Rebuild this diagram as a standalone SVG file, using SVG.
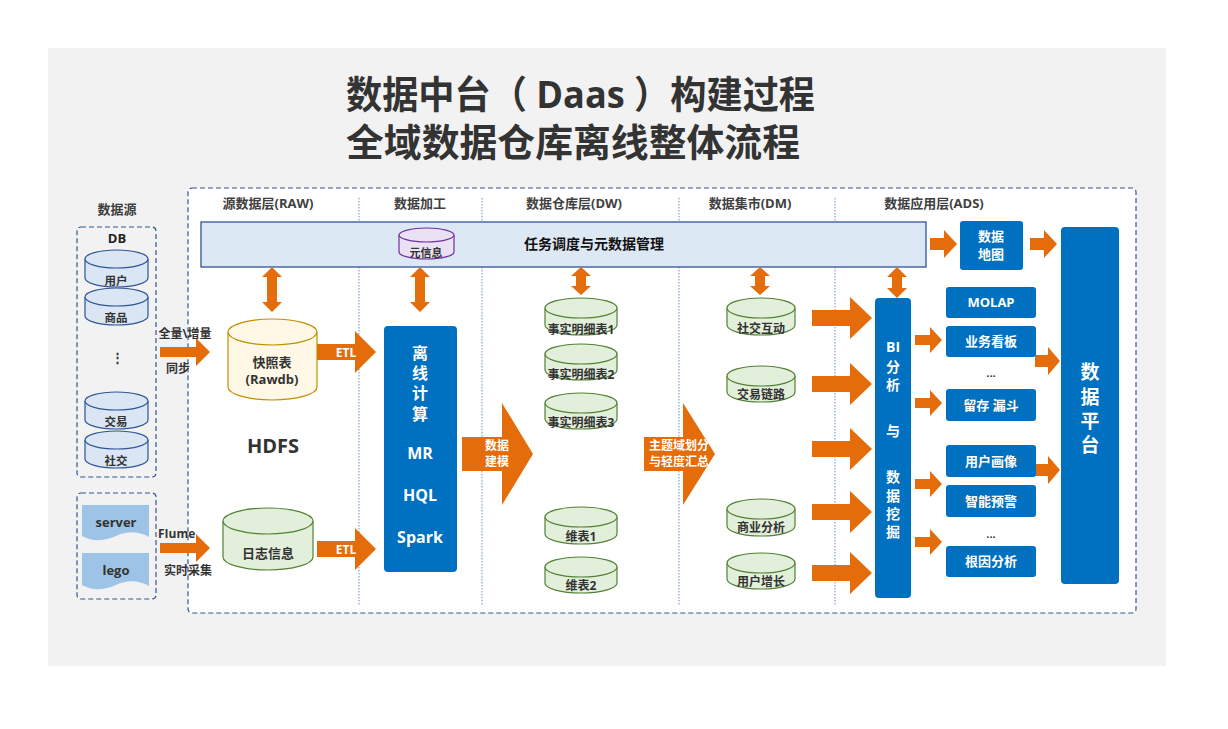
<svg xmlns="http://www.w3.org/2000/svg" width="1228" height="729" viewBox="0 0 1228 729">
<style>
text{font-family:"Open Sans","Noto Sans CJK SC",sans-serif;font-weight:bold;text-anchor:middle}
.title{font-size:38px;fill:#333;text-anchor:start}
.hdr{font-size:13px;fill:#404040}
.lbl{font-size:12px;fill:#333}
.wt{fill:#fff}
.arr{fill:#e46c0a}
.sep{stroke:#8ea9d1;stroke-width:1.3;stroke-dasharray:1.5 1.5;fill:none}
.dash{fill:none;stroke:#2f5597;stroke-width:1.2;stroke-dasharray:5 3}
.cb{fill:#dae6f3;stroke:#2f5597;stroke-width:1.2}
.cg{fill:#e2efda;stroke:#538135;stroke-width:1.2}
.cy{fill:#fff8e6;stroke:#bf9000;stroke-width:1.2}
.cp{fill:#ebe1f5;stroke:#7030a0;stroke-width:1.2}
.blue{fill:#0070c0}
</style>
<rect x="0" y="0" width="1228" height="729" style="fill:#ffffff"/>
<rect x="48" y="48" width="1118" height="618" style="fill:#f2f2f2"/>
<text class="title" x="346" y="108" textLength="469" lengthAdjust="spacingAndGlyphs">数据中台（ Daas ）构建过程</text>
<text class="title" x="346" y="156" textLength="454" lengthAdjust="spacingAndGlyphs">全域数据仓库离线整体流程</text>

<rect x="188" y="188" width="948" height="425" rx="4" style="fill:#ffffff;stroke:none"/>
<rect x="188" y="188" width="948" height="425" rx="4" class="dash"/>
<g id="separators">
<line class="sep" x1="359" y1="198" x2="359" y2="605"/>
<line class="sep" x1="482" y1="198" x2="482" y2="605"/>
<line class="sep" x1="679" y1="198" x2="679" y2="605"/>
<line class="sep" x1="835" y1="198" x2="835" y2="605"/>
</g>
<g id="headers">
<text class="hdr" x="117" y="214">数据源</text>
<text class="hdr" x="268" y="208">源数据层(RAW)</text>
<text class="hdr" x="420" y="208">数据加工</text>
<text class="hdr" x="574" y="208">数据仓库层(DW)</text>
<text class="hdr" x="750" y="208">数据集市(DM)</text>
<text class="hdr" x="934" y="208">数据应用层(ADS)</text>
</g>

<g id="band">
<rect x="201" y="222" width="725" height="45" fill="#dde8f5" stroke="#2f5597" stroke-width="1.3"/>
<text x="594" y="249" font-size="14" fill="#111">任务调度与元数据管理</text>
</g>
<g id="meta">
<path class="cp" d="M399,235 V252 A27.5,7 0 0 0 454,252 V235"/>
<ellipse class="cp" cx="426.5" cy="235" rx="27.5" ry="7"/>
<text x="426" y="257" font-size="11" fill="#333">元信息</text>
</g>

<g id="src-db">
<rect x="77" y="227" width="79" height="250" rx="4" class="dash"/>
<text x="117" y="243" font-size="13" fill="#222">DB</text>
<g id="db-user"><path class="cb" d="M85,259 V278 A31.5,9 0 0 0 148,278 V259"/><ellipse class="cb" cx="116.5" cy="259" rx="31.5" ry="9"/><text x="116" y="285" font-size="11.5" fill="#333">用户</text></g>
<g id="db-goods"><path class="cb" d="M85,297 V316 A31.5,9 0 0 0 148,316 V297"/><ellipse class="cb" cx="116.5" cy="297" rx="31.5" ry="9"/><text x="116" y="322" font-size="11.5" fill="#333">商品</text></g>
<text x="117" y="362" font-size="13" fill="#333">⋮</text>
<g id="db-trade"><path class="cb" d="M85,401 V420 A31.5,9 0 0 0 148,420 V401"/><ellipse class="cb" cx="116.5" cy="401" rx="31.5" ry="9"/><text x="116" y="426" font-size="11.5" fill="#333">交易</text></g>
<g id="db-social"><path class="cb" d="M85,440 V459 A31.5,9 0 0 0 148,459 V440"/><ellipse class="cb" cx="116.5" cy="440" rx="31.5" ry="9"/><text x="116" y="465" font-size="11.5" fill="#333">社交</text></g>
</g>
<g id="src-log">
<rect x="77" y="493" width="79" height="106" rx="4" class="dash"/>
<path fill="#9dc3e6" d="M82,505 H149 V537 C138,531 127,531 116,536 S93,542 82,536 Z"/>
<text x="116" y="527" font-size="13" fill="#333">server</text>
<path fill="#9dc3e6" d="M82,553 H149 V586 C138,580 127,580 116,585 S93,591 82,585 Z"/>
<text x="116" y="575" font-size="13" fill="#333">lego</text>
</g>

<g id="connectors">
<polygon class="arr" points="160,347 196,347 196,338 210,352 196,366 196,357 160,357"/>
<polygon class="arr" points="160,543 196,543 196,534 210,548 196,562 196,553 160,553"/>
<polygon class="arr" points="317,344 355,344 355,331 376,352 355,373 355,360 317,360"/>
<polygon class="arr" points="317,541 355,541 355,528 376,549 355,570 355,557 317,557"/>
<polygon class="arr" points="462,437 502,437 502,403 533,454 502,505 502,471 462,471"/>
<polygon class="arr" points="644,437 683,437 683,403 715,454 683,505 683,471 644,471"/>
<polygon class="arr" points="812,310 850,310 850,297 872,318 850,339 850,326 812,326"/>
<polygon class="arr" points="812,376 850,376 850,363 872,384 850,405 850,392 812,392"/>
<polygon class="arr" points="812,441 850,441 850,428 872,449 850,470 850,457 812,457"/>
<polygon class="arr" points="812,504 850,504 850,491 872,512 850,533 850,520 812,520"/>
<polygon class="arr" points="812,565 850,565 850,552 872,573 850,594 850,581 812,581"/>
<polygon class="arr" points="915,335 930,335 930,327 942,340 930,353 930,345 915,345"/>
<polygon class="arr" points="915,398 930,398 930,390 942,403 930,416 930,408 915,408"/>
<polygon class="arr" points="915,479 930,479 930,471 942,484 930,497 930,489 915,489"/>
<polygon class="arr" points="915,537 930,537 930,529 942,542 930,555 930,547 915,547"/>
<polygon class="arr" points="1035,355 1048,355 1048,347 1060,361 1048,375 1048,367 1035,367"/>
<polygon class="arr" points="1035,464 1048,464 1048,456 1060,470 1048,484 1048,476 1035,476"/>
<polygon class="arr" points="930,238 944,238 944,230 957,244 944,258 944,250 930,250"/>
<polygon class="arr" points="1030,238 1044,238 1044,230 1057,244 1044,258 1044,250 1030,250"/>
<polygon class="arr" points="272,267 282,277 277,277 277,302 282,302 272,312 262,302 267,302 267,277 262,277"/>
<polygon class="arr" points="420,267 430,277 425,277 425,302 430,302 420,312 410,302 415,302 415,277 410,277"/>
<polygon class="arr" points="581,267 591,276 586,276 586,286 591,286 581,295 571,286 576,286 576,276 571,276"/>
<polygon class="arr" points="760,267 770,276 765,276 765,286 770,286 760,295 750,286 755,286 755,276 750,276"/>
<polygon class="arr" points="897,267 907,277 902,277 902,288 907,288 897,298 887,288 892,288 892,277 887,277"/>
<text x="346" y="357" font-size="12" class="wt">ETL</text>
<text x="346" y="554" font-size="12" class="wt">ETL</text>
<text x="497" y="450" font-size="12" class="wt">数据</text>
<text x="497" y="466" font-size="12" class="wt">建模</text>
<text x="679" y="450" font-size="12" class="wt">主题域划分</text>
<text x="679" y="466" font-size="12" class="wt">与轻度汇总</text>
<text x="185" y="338" class="lbl">全量\增量</text>
<text x="178" y="373" class="lbl">同步</text>
<text x="158" y="538" class="lbl" style="text-anchor:start">FIume</text>
<text x="188" y="575" class="lbl">实时采集</text>
</g>

<g id="raw-snapshot">
<path class="cy" d="M228,332 V387 A44.5,13 0 0 0 317,387 V332"/>
<ellipse class="cy" cx="272.5" cy="332" rx="44.5" ry="13"/>
<text x="272" y="367" font-size="13" fill="#333">快照表</text>
<text x="272" y="384" font-size="13" fill="#333">(Rawdb)</text>
</g>
<text x="273" y="453" font-size="20" fill="#333">HDFS</text>
<g id="raw-log">
<path class="cg" d="M223,521 V557 A45,13 0 0 0 313,557 V521"/>
<ellipse class="cg" cx="268" cy="521" rx="45" ry="13"/>
<text x="268" y="558" font-size="13" fill="#333">日志信息</text>
</g>

<g id="compute">
<rect x="384" y="326" width="73" height="246" rx="4" class="blue"/>
<g font-size="16">
<text x="420" y="359" class="wt">离</text>
<text x="420" y="379" class="wt">线</text>
<text x="420" y="399" class="wt">计</text>
<text x="420" y="420" class="wt">算</text>
<text x="420" y="459" class="wt">MR</text>
<text x="420" y="501" class="wt">HQL</text>
<text x="420" y="543" class="wt">Spark</text>
</g>
</g>

<g id="dw">
<g id="dw-f1"><path class="cg" d="M545,308 V325 A36,10 0 0 0 617,325 V308"/><ellipse class="cg" cx="581" cy="308" rx="36" ry="10"/><text x="581" y="334" font-size="12" fill="#333">事实明细表1</text></g>
<g id="dw-f2"><path class="cg" d="M545,354 V370 A36,10 0 0 0 617,370 V354"/><ellipse class="cg" cx="581" cy="354" rx="36" ry="10"/><text x="581" y="379" font-size="12" fill="#333">事实明细表2</text></g>
<g id="dw-f3"><path class="cg" d="M545,403 V419 A36,10 0 0 0 617,419 V403"/><ellipse class="cg" cx="581" cy="403" rx="36" ry="10"/><text x="581" y="427" font-size="12" fill="#333">事实明细表3</text></g>
<g id="dw-d1"><path class="cg" d="M545,517 V534 A36,10 0 0 0 617,534 V517"/><ellipse class="cg" cx="581" cy="517" rx="36" ry="10"/><text x="581" y="541" font-size="12" fill="#333">维表1</text></g>
<g id="dw-d2"><path class="cg" d="M545,567 V583 A36,10 0 0 0 617,583 V567"/><ellipse class="cg" cx="581" cy="567" rx="36" ry="10"/><text x="581" y="590" font-size="12" fill="#333">维表2</text></g>
</g>

<g id="dm">
<g id="dm-social"><path class="cg" d="M727,308 V325 A34,10 0 0 0 795,325 V308"/><ellipse class="cg" cx="761" cy="308" rx="34" ry="10"/><text x="761" y="333" font-size="12" fill="#333">社交互动</text></g>
<g id="dm-trade"><path class="cg" d="M727,376 V392 A34,10 0 0 0 795,392 V376"/><ellipse class="cg" cx="761" cy="376" rx="34" ry="10"/><text x="761" y="399" font-size="12" fill="#333">交易链路</text></g>
<g id="dm-biz"><path class="cg" d="M727,509 V526 A34,10 0 0 0 795,526 V509"/><ellipse class="cg" cx="761" cy="509" rx="34" ry="10"/><text x="761" y="532" font-size="12" fill="#333">商业分析</text></g>
<g id="dm-user"><path class="cg" d="M727,563 V579 A34,10 0 0 0 795,579 V563"/><ellipse class="cg" cx="761" cy="563" rx="34" ry="10"/><text x="761" y="586" font-size="12" fill="#333">用户增长</text></g>
</g>

<g id="bi">
<rect x="875" y="298" width="36" height="300" rx="4" class="blue"/>
<g font-size="14">
<text x="893" y="352" class="wt">BI</text>
<text x="893" y="372" class="wt">分</text>
<text x="893" y="390" class="wt">析</text>
<text x="893" y="436" class="wt">与</text>
<text x="893" y="482" class="wt">数</text>
<text x="893" y="501" class="wt">据</text>
<text x="893" y="519" class="wt">挖</text>
<text x="893" y="537" class="wt">掘</text>
</g>
</g>

<g id="ads">
<g id="ads-molap"><rect x="946" y="287" width="90" height="31" rx="3" class="blue"/><text x="991" y="307" font-size="13" class="wt">MOLAP</text></g>
<g id="ads-board"><rect x="946" y="326" width="90" height="31" rx="3" class="blue"/><text x="991" y="346" font-size="13" class="wt">业务看板</text></g>
<text x="991" y="377" font-size="11" fill="#333">...</text>
<g id="ads-funnel"><rect x="946" y="389" width="90" height="32" rx="3" class="blue"/><text x="991" y="410" font-size="13" class="wt">留存 漏斗</text></g>
<g id="ads-portrait"><rect x="946" y="445" width="90" height="32" rx="3" class="blue"/><text x="991" y="466" font-size="13" class="wt">用户画像</text></g>
<g id="ads-alert"><rect x="946" y="485" width="90" height="32" rx="3" class="blue"/><text x="991" y="506" font-size="13" class="wt">智能预警</text></g>
<text x="991" y="538" font-size="11" fill="#333">...</text>
<g id="ads-root"><rect x="946" y="546" width="90" height="31" rx="3" class="blue"/><text x="991" y="566" font-size="13" class="wt">根因分析</text></g>
</g>

<g id="datamap">
<rect x="960" y="221" width="63" height="49" rx="3" class="blue"/>
<text x="991" y="241" font-size="13" class="wt">数据</text>
<text x="991" y="259" font-size="13" class="wt">地图</text>
</g>
<g id="platform">
<rect x="1061" y="227" width="58" height="357" rx="4" class="blue"/>
<g font-size="19">
<text x="1090" y="379" class="wt">数</text>
<text x="1090" y="404" class="wt">据</text>
<text x="1090" y="428" class="wt">平</text>
<text x="1090" y="452" class="wt">台</text>
</g>
</g>
</svg>
